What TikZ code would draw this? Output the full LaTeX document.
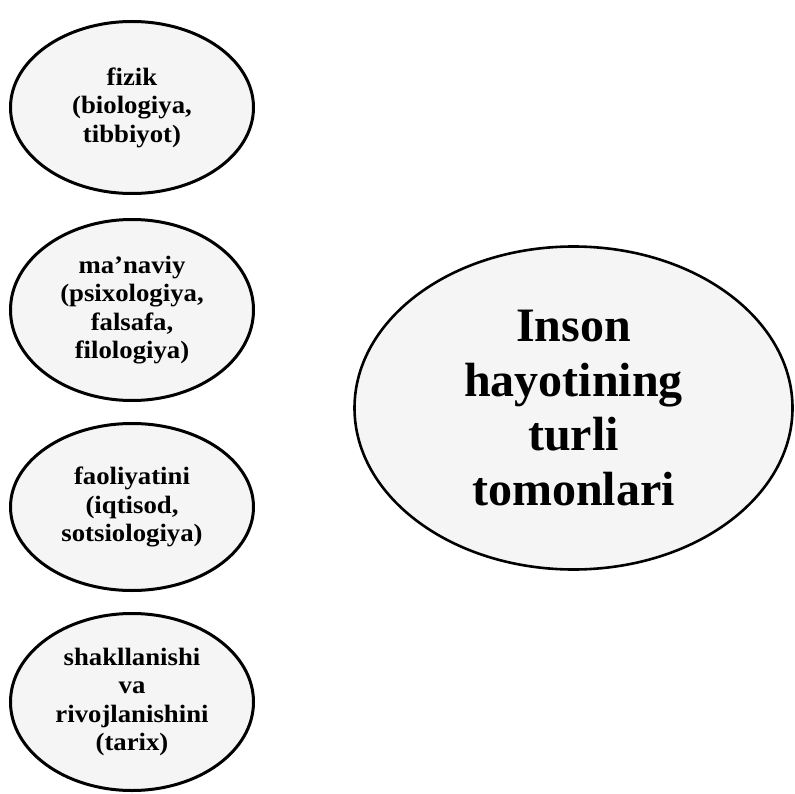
\documentclass[tikz,border=0pt]{standalone}
\usepackage{fontspec}
\setmainfont{Liberation Serif}
\newfontfamily\smallfont[FakeStretch=1.07]{Liberation Serif}
\usetikzlibrary{shapes.geometric}
\tikzset{
  smallell/.style={ellipse, draw=black, line width=3pt, fill=black!4, inner sep=0pt,
    minimum width=243pt, minimum height=175pt, align=center,
    font=\smallfont\bfseries\fontsize{25}{28.5}\selectfont},
  bigell/.style={ellipse, draw=black, line width=2.6pt, fill=black!4, inner sep=0pt,
    minimum width=438pt, minimum height=323pt, align=center,
    font=\bfseries\fontsize{48}{54.5}\selectfont}
}
\begin{document}
\begin{tikzpicture}[x=1pt,y=-1pt]
\useasboundingbox (0,0) rectangle (795,794);
\node[smallell, minimum height=172pt] (fizik) at (132,107.5) {fizik\\(biologiya,\\tibbiyot)};
\node[smallell, minimum height=181pt] (manaviy) at (132,310) {ma’naviy\\(psixologiya,\\falsafa,\\filologiya)};
\node[smallell, minimum height=167pt] (faol) at (132,507) {faoliyatini\\(iqtisod,\\sotsiologiya)};
\node[smallell, minimum height=177pt] (shakl) at (132,702) {shakllanishi\\va\\rivojlanishini\\(tarix)};
\node[bigell] (inson) at (573.5,408) {Inson\\hayotining\\turli\\tomonlari};
\end{tikzpicture}
\end{document}
